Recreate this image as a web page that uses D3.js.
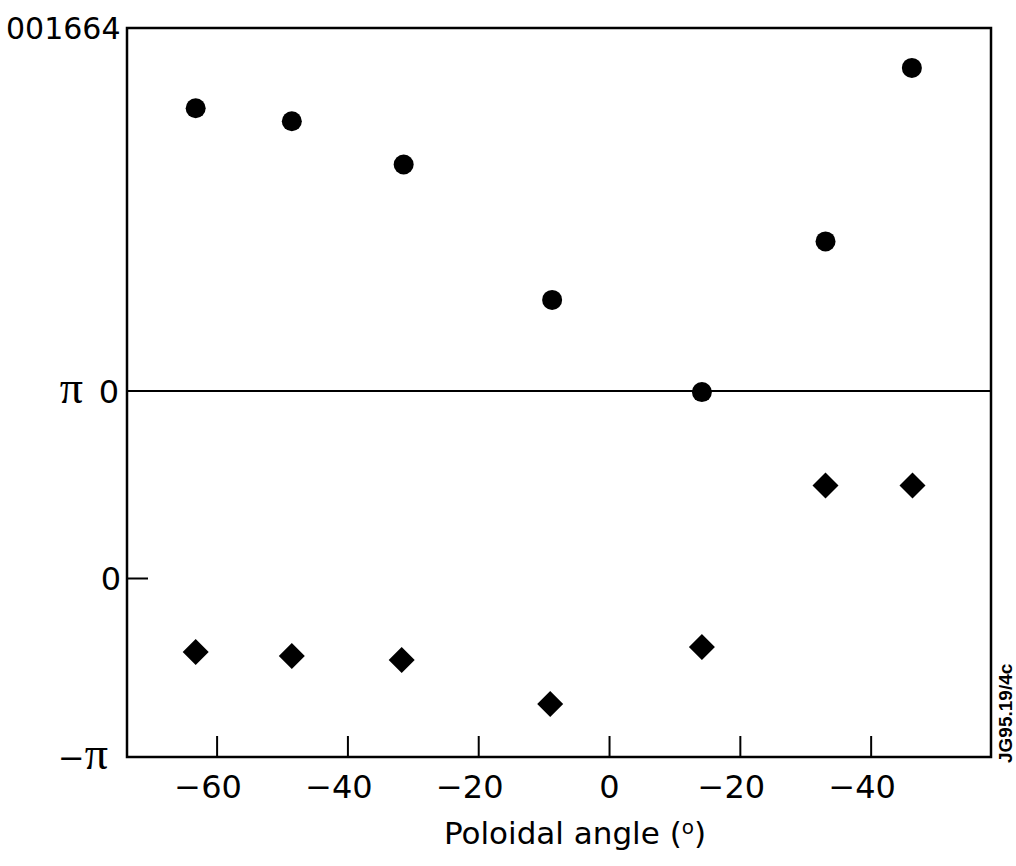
<!DOCTYPE html>
<html>
<head>
<meta charset="utf-8">
<script src="https://cdn.jsdelivr.net/npm/d3@7"></script>
<style>
  html, body { margin: 0; padding: 0; background: #fff; }
  svg { display: block; }
  text { font-family: "DejaVu Sans", "Liberation Sans", Arial, sans-serif; fill: #000; }
</style>
</head>
<body>
<svg id="chart" width="1016" height="866"></svg>
<script>
// ---- data ----
const angles = [-63.2, -48.5, -31.4, -8.7, 14.2, 33.1, 46.3];          // poloidal angle (deg), circles
const amplitude = [0.779, 0.743, 0.624, 0.251, -0.003, 0.412, 0.890];  // upper panel (circles)
const phaseAngles = [-63.2, -48.5, -31.7, -9.0, 14.2, 33.1, 46.4];     // diamonds
const phase = [-1.298, -1.369, -1.439, -2.211, -1.211, 1.554, 1.554];  // lower panel (diamonds), rad
const xTickValues = [-60, -40, -20, 0, 20, 40];
const xTickLabels = ["\u221260", "\u221240", "\u221220", "0", "\u221220", "\u221240"];
const phaseTickValues = [-Math.PI, 0, Math.PI];
const phaseTickLabels = ["\u2212\u03c0", "0", "\u03c0"];
const figId = "001664";
const sideId = "JG95.19/4c";
const xTitle = "Poloidal angle (";

// ---- layout ----
const mLeft = 127, mRight = 991, mTop = 28, mBottom = 757;
const svg = d3.select("#chart");

const x = d3.scaleLinear().domain([-73.7, 58.4]).range([mLeft, mRight]);
const yAmp = d3.scaleLinear().domain([0, 1]).range([391, mTop]);
const yPhase = d3.scaleLinear().domain([-Math.PI, 0, Math.PI]).range([mBottom, 578, 391]);

// frame
svg.append("rect")
  .attr("x", mLeft).attr("y", mTop)
  .attr("width", mRight - mLeft).attr("height", mBottom - mTop)
  .attr("fill", "none").attr("stroke", "#000").attr("stroke-width", 2.5);

// divider line (amplitude 0 / phase pi)
svg.append("line")
  .attr("x1", mLeft).attr("x2", mRight)
  .attr("y1", yAmp(0)).attr("y2", yAmp(0))
  .attr("stroke", "#000").attr("stroke-width", 2.2);

// x axis
const xAxis = d3.axisBottom(x)
  .tickValues(xTickValues)
  .tickSize(-21)
  .tickPadding(18)
  .tickFormat((d, i) => xTickLabels[i]);
const gx = svg.append("g").attr("transform", `translate(0,${mBottom})`).call(xAxis);
gx.select(".domain").remove();
gx.selectAll(".tick line").attr("stroke", "#000").attr("stroke-width", 2);
gx.selectAll(".tick text")
  .style("font-family", "'DejaVu Sans', sans-serif")
  .style("font-size", "32px").attr("fill", "#000")
  .attr("dx", (d, i) => xTickLabels[i].startsWith("\u2212") ? -9 : 0);

// y tick for phase 0 (inward)
const yAxis = d3.axisLeft(yPhase).tickValues([0]).tickSize(-21).tickFormat("");
const gy = svg.append("g").attr("transform", `translate(${mLeft},0)`).call(yAxis);
gy.select(".domain").remove();
gy.selectAll(".tick line").attr("stroke", "#000").attr("stroke-width", 2);

// phase tick labels (minus in sans, pi in serif)
const pl = svg.append("g").selectAll("text")
  .data(phaseTickValues)
  .join("text")
  .attr("x", (d, i) => i === 0 ? 108 : (i === 1 ? 121 : 83))
  .attr("y", d => yPhase(d))
  .attr("dy", "0.36em")
  .attr("text-anchor", "end")
  .style("font-size", "32px");
pl.each(function(d, i) {
  const s = phaseTickLabels[i];
  const el = d3.select(this);
  for (const ch of s) {
    const sp = el.append("tspan").text(ch);
    if (ch === "\u03c0") sp.style("font-family", "'Liberation Serif', 'DejaVu Serif', serif").style("font-size", "46px");
  }
});

// amplitude zero label
svg.append("text")
  .attr("x", 119).attr("y", yAmp(0))
  .attr("dy", "0.36em")
  .attr("text-anchor", "end")
  .style("font-size", "32px")
  .text("0");

// figure id
svg.append("text")
  .attr("x", 6).attr("y", 39)
  .style("font-size", "30px")
  .text(figId);

// side id
svg.append("text")
  .attr("transform", "translate(1012,763) rotate(-90)")
  .style("font-family", "'Liberation Sans', Arial, sans-serif")
  .style("font-size", "19px").style("font-weight", "bold")
  .text(sideId);

// x title
const t = svg.append("text")
  .attr("x", 575).attr("y", 844)
  .attr("text-anchor", "middle")
  .style("font-size", "31px");
t.append("tspan").text(xTitle);
t.append("tspan").style("font-size", "20px").attr("dy", "-10").text("o");
t.append("tspan").attr("dy", "10").text(")");

// circles (upper panel)
svg.append("g").selectAll("circle")
  .data(angles.map((a, i) => ({a, v: amplitude[i]})))
  .join("circle")
  .attr("cx", d => x(d.a))
  .attr("cy", d => yAmp(d.v))
  .attr("r", 10)
  .attr("fill", "#000");

// diamonds (lower panel)
const dsym = d3.symbol().type(d3.symbolSquare).size(338);
svg.append("g").selectAll("path")
  .data(phaseAngles.map((a, i) => ({a, v: phase[i]})))
  .join("path")
  .attr("d", dsym)
  .attr("transform", d => `translate(${x(d.a)},${yPhase(d.v)}) rotate(45)`)
  .attr("fill", "#000");
</script>
</body>
</html>
